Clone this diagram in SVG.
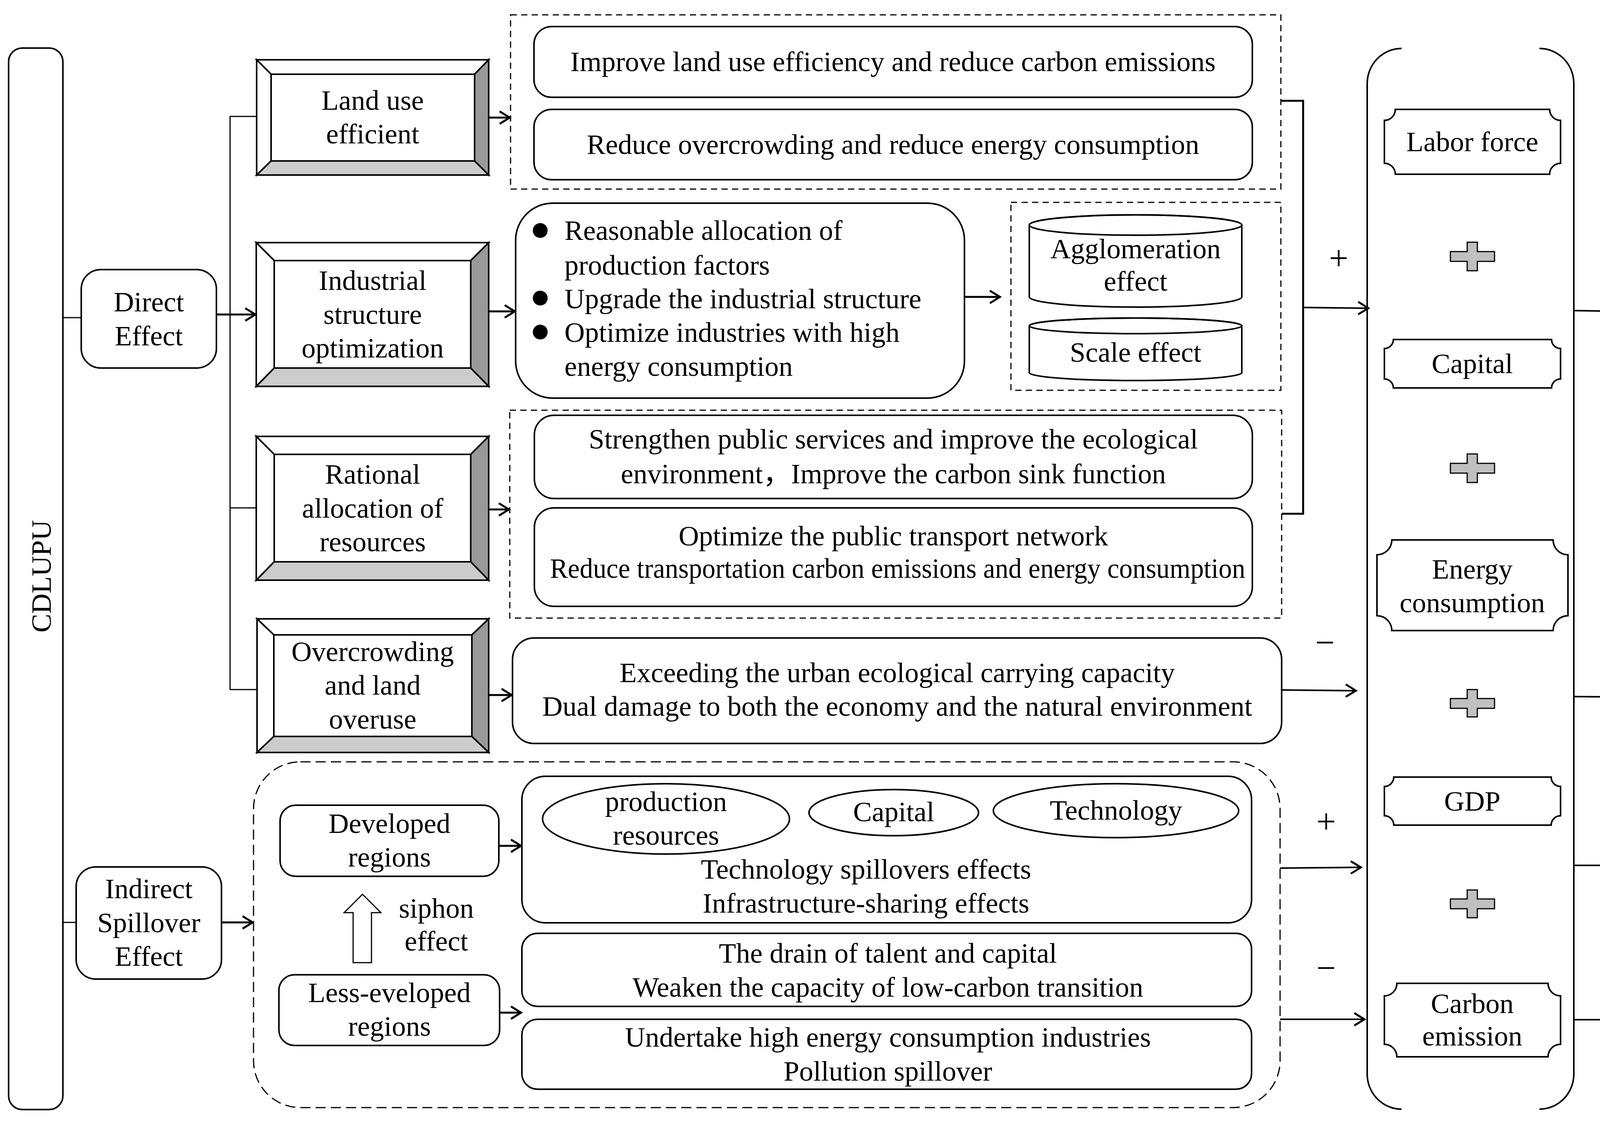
<svg xmlns="http://www.w3.org/2000/svg" width="4321" height="2877" viewBox="0 0 4321 2877">
<style>
.t{font-family:"Liberation Serif","Times New Roman","Noto Sans CJK SC",serif;font-size:72px;fill:#000;text-anchor:middle}
.ts{text-anchor:start}
.sg{font-family:"Liberation Serif","Times New Roman",serif;font-size:88px;fill:#000;text-anchor:middle}
.box{fill:#fff;stroke:#000;stroke-width:4}
.dash{fill:none;stroke:#000;stroke-width:3;stroke-dasharray:16 11}
.dashb{fill:none;stroke:#000;stroke-width:3;stroke-dasharray:26 13}
.lt{fill:none;stroke:#000;stroke-width:3}
.ar{fill:none;stroke:#000;stroke-width:5;marker-end:url(#ah)}
.arl{fill:none;stroke:#000;stroke-width:4;marker-end:url(#ah)}
.bw{fill:#fff;stroke:#000;stroke-width:4}
.bd{fill:#999;stroke:#000;stroke-width:4}
.bl{fill:#ccc;stroke:#000;stroke-width:4}
.cross{fill:#c0c0c0;stroke:#000;stroke-width:3}
</style>
<defs>
<marker id="ah" markerUnits="userSpaceOnUse" markerWidth="44" markerHeight="44" refX="34" refY="20" orient="auto">
<path d="M8,4 L34,20 L8,36" fill="none" stroke="#000" stroke-width="5"/>
</marker>
</defs>
<rect width="4321" height="2877" fill="#fff"/>

<g id="connectors">
<line class="lt" x1="161" y1="813" x2="208" y2="813"/>
<line class="lt" x1="161" y1="2361" x2="195" y2="2361"/>
<polyline class="lt" points="657,298 589,298 589,1765 658,1765"/>
<line class="lt" x1="589" y1="1300" x2="656" y2="1300"/>
<line class="ar" x1="554" y1="805" x2="654" y2="805"/>
<line class="ar" x1="1251" y1="301" x2="1305" y2="301"/>
<line class="ar" x1="1251" y1="797" x2="1318" y2="797"/>
<line class="ar" x1="2469" y1="760" x2="2560" y2="760"/>
<line class="ar" x1="1251" y1="1304" x2="1303" y2="1304"/>
<line class="ar" x1="1251" y1="1779" x2="1310" y2="1779"/>
<line class="ar" x1="567" y1="2361" x2="647" y2="2361"/>
<line class="ar" x1="1277" y1="2165" x2="1334" y2="2165"/>
<line class="ar" x1="1279" y1="2592" x2="1334" y2="2592"/>
<polyline points="3279,258 3336,258 3336,1315 3281,1315" fill="none" stroke="#000" stroke-width="5"/>
<line class="arl" x1="3336" y1="787" x2="3503" y2="789"/>
<line class="arl" x1="3281" y1="1766" x2="3471" y2="1768"/>
<line class="arl" x1="3277" y1="2222" x2="3484" y2="2220"/>
<line class="arl" x1="3277" y1="2609" x2="3493" y2="2609"/>
<line class="arl" x1="4029" y1="795" x2="4148" y2="797"/>
<line class="arl" x1="4029" y1="1783" x2="4150" y2="1784"/>
<line class="arl" x1="4029" y1="2215" x2="4145" y2="2215"/>
<line class="arl" x1="4029" y1="2610" x2="4150" y2="2610"/>
<polygon points="928,2289 975,2336 951,2336 951,2464 904,2464 904,2336 881,2336" fill="#fff" stroke="#000" stroke-width="3"/>
</g>

<g id="cdlupu">
<rect class="box" x="22" y="123" width="139" height="2717" rx="35"/>
<text class="t" transform="translate(130,1475) rotate(-90)">CDLUPU</text>
</g>

<g id="cee">
<rect class="box" x="4151" y="124" width="139" height="2715" rx="30"/>
<text class="t" transform="translate(4247,1443) rotate(-90)">CEE</text>
</g>

<g id="direct-effect">
<rect class="box" x="208" y="690" width="346" height="252" rx="50"/>
<text class="t" x="381" y="797">Direct</text>
<text class="t" x="381" y="884">Effect</text>
</g>

<g id="indirect-effect">
<rect class="box" x="195" y="2219" width="372" height="287" rx="50"/>
<text class="t" x="381" y="2299">Indirect</text>
<text class="t" x="381" y="2386">Spillover</text>
<text class="t" x="381" y="2472">Effect</text>
</g>

<g id="land-use">
<polygon class="bw" points="657,153 1251,153 1215,190 694,190"/>
<polygon class="bw" points="657,153 694,190 694,412 657,448"/>
<polygon class="bd" points="1251,153 1251,448 1215,412 1215,190"/>
<polygon class="bl" points="657,448 694,412 1215,412 1251,448"/>
<rect class="box" x="694" y="190" width="521" height="222"/>
<text class="t" x="954" y="281">Land use</text>
<text class="t" x="954" y="367">efficient</text>
</g>

<g id="industrial">
<polygon class="bw" points="656,621 1251,621 1205,667 702,667"/>
<polygon class="bw" points="656,621 702,667 702,942 656,989"/>
<polygon class="bd" points="1251,621 1251,989 1205,942 1205,667"/>
<polygon class="bl" points="656,989 702,942 1205,942 1251,989"/>
<rect class="box" x="702" y="667" width="503" height="275"/>
<text class="t" x="954" y="742">Industrial</text>
<text class="t" x="954" y="829">structure</text>
<text class="t" x="954" y="915">optimization</text>
</g>

<g id="rational">
<polygon class="bw" points="656,1117 1251,1117 1205,1163 702,1163"/>
<polygon class="bw" points="656,1117 702,1163 702,1438 656,1485"/>
<polygon class="bd" points="1251,1117 1251,1485 1205,1438 1205,1163"/>
<polygon class="bl" points="656,1485 702,1438 1205,1438 1251,1485"/>
<rect class="box" x="702" y="1163" width="503" height="275"/>
<text class="t" x="954" y="1238">Rational</text>
<text class="t" x="954" y="1325">allocation of</text>
<text class="t" x="954" y="1411">resources</text>
</g>

<g id="overcrowding">
<polygon class="bw" points="658,1584 1251,1584 1208,1625 701,1625"/>
<polygon class="bw" points="658,1584 701,1625 701,1885 658,1926"/>
<polygon class="bd" points="1251,1584 1251,1926 1208,1885 1208,1625"/>
<polygon class="bl" points="658,1926 701,1885 1208,1885 1251,1926"/>
<rect class="box" x="701" y="1625" width="507" height="260"/>
<text class="t" x="954" y="1692">Overcrowding</text>
<text class="t" x="954" y="1778">and land</text>
<text class="t" x="954" y="1865">overuse</text>
</g>

<g id="land-effects">
<rect class="dash" x="1307" y="38" width="1972" height="446"/>
<rect class="box" x="1367" y="68" width="1839" height="181" rx="45"/>
<text class="t" x="2286" y="182">Improve land use efficiency and reduce carbon emissions</text>
<rect class="box" x="1367" y="280" width="1839" height="180" rx="45"/>
<text class="t" x="2286" y="394">Reduce overcrowding and reduce energy consumption</text>
</g>

<g id="industrial-effects">
<rect class="box" x="1320" y="520" width="1149" height="499" rx="95"/>
<circle cx="1383" cy="590" r="19"/>
<circle cx="1383" cy="763" r="19"/>
<circle cx="1383" cy="850" r="19"/>
<text class="t ts" x="1445" y="614">Reasonable allocation of</text>
<text class="t ts" x="1445" y="703">production factors</text>
<text class="t ts" x="1445" y="789">Upgrade the industrial structure</text>
<text class="t ts" x="1445" y="875">Optimize industries with high</text>
<text class="t ts" x="1445" y="962">energy consumption</text>
</g>

<g id="cylinders">
<rect class="dash" x="2588" y="518" width="691" height="481"/>
<path class="box" d="M2635,576 A272,26 0 0 1 3179,576 L3179,760 A272,26 0 0 1 2635,760 Z"/>
<ellipse cx="2907" cy="576" rx="272" ry="26" fill="none" stroke="#000" stroke-width="4"/>
<text class="t" x="2907" y="661">Agglomeration</text>
<text class="t" x="2907" y="744">effect</text>
<path class="box" d="M2635,834 A272,20 0 0 1 3179,834 L3179,954 A272,20 0 0 1 2635,954 Z"/>
<ellipse cx="2907" cy="834" rx="272" ry="20" fill="none" stroke="#000" stroke-width="4"/>
<text class="t" x="2907" y="926">Scale effect</text>
</g>

<g id="resource-effects">
<rect class="dash" x="1305" y="1050" width="1976" height="532"/>
<rect class="box" x="1368" y="1063" width="1838" height="213" rx="50"/>
<text class="t" x="2287" y="1148">Strengthen public services and improve the ecological</text>
<text class="t" x="2287" y="1237">environment，Improve the carbon sink function</text>
<rect class="box" x="1368" y="1300" width="1838" height="252" rx="50"/>
<text class="t" x="2287" y="1396">Optimize the public transport network</text>
<text class="t" x="2298" y="1479" textLength="1780" lengthAdjust="spacingAndGlyphs">Reduce transportation carbon emissions and energy consumption</text>
</g>

<g id="exceeding">
<rect class="box" x="1312" y="1633" width="1969" height="270" rx="55"/>
<text class="t" x="2297" y="1746">Exceeding the urban ecological carrying capacity</text>
<text class="t" x="2297" y="1832">Dual damage to both the economy and the natural environment</text>
</g>

<g id="spillover">
<rect class="dashb" x="649" y="1950" width="2628" height="885" rx="120"/>
<rect class="box" x="717" y="2061" width="560" height="182" rx="40"/>
<text class="t" x="997" y="2132">Developed</text>
<text class="t" x="997" y="2218">regions</text>
<rect class="box" x="714" y="2495" width="565" height="181" rx="40"/>
<text class="t" x="997" y="2565">Less-eveloped</text>
<text class="t" x="997" y="2651">regions</text>
<text class="t" x="1117" y="2349">siphon</text>
<text class="t" x="1117" y="2433">effect</text>
<rect class="box" x="1336" y="1987" width="1868" height="375" rx="60"/>
<ellipse class="box" cx="1705" cy="2096" rx="316" ry="90"/>
<text class="t" x="1705" y="2076">production</text>
<text class="t" x="1705" y="2162">resources</text>
<ellipse class="box" cx="2288" cy="2080" rx="217" ry="59"/>
<text class="t" x="2288" y="2102">Capital</text>
<ellipse class="box" cx="2857" cy="2075" rx="314" ry="69"/>
<text class="t" x="2857" y="2098">Technology</text>
<text class="t" x="2217" y="2249">Technology spillovers effects</text>
<text class="t" x="2217" y="2336">Infrastructure-sharing effects</text>
<rect class="box" x="1336" y="2389" width="1868" height="187" rx="40"/>
<text class="t" x="2273" y="2464">The drain of talent and capital</text>
<text class="t" x="2273" y="2551">Weaken the capacity of low-carbon transition</text>
<rect class="box" x="1336" y="2609" width="1868" height="179" rx="40"/>
<text class="t" x="2273" y="2679">Undertake high energy consumption industries</text>
<text class="t" x="2273" y="2766">Pollution spillover</text>
</g>

<g id="signs">
<text class="sg" x="3427" y="690">+</text>
<text class="sg" x="3392" y="1674">−</text>
<text class="sg" x="3395" y="2132">+</text>
<text class="sg" x="3395" y="2507">−</text>
</g>

<g id="factors">
<path d="M3588,124 A88,90 0 0 0 3500,214 L3500,2749 A88,90 0 0 0 3588,2839" fill="none" stroke="#000" stroke-width="4"/>
<path d="M3941,124 A88,90 0 0 1 4029,214 L4029,2749 A88,90 0 0 1 3941,2839" fill="none" stroke="#000" stroke-width="4"/>
<path class="box" d="M3572,280 L3967,280 A28,28 0 0 0 3995,308 L3995,418 A28,28 0 0 0 3967,446 L3572,446 A28,28 0 0 0 3544,418 L3544,308 A28,28 0 0 0 3572,280 Z"/>
<text class="t" x="3769" y="387">Labor force</text>
<path class="cross" d="M3756,620 L3782,620 L3782,644 L3826,644 L3826,669 L3782,669 L3782,693 L3756,693 L3756,669 L3713,669 L3713,644 L3756,644 Z"/>
<path class="box" d="M3567,869 L3972,869 A23,23 0 0 0 3995,892 L3995,970 A23,23 0 0 0 3972,993 L3567,993 A23,23 0 0 0 3544,970 L3544,892 A23,23 0 0 0 3567,869 Z"/>
<text class="t" x="3769" y="955">Capital</text>
<path class="cross" d="M3756,1162 L3782,1162 L3782,1186 L3826,1186 L3826,1211 L3782,1211 L3782,1235 L3756,1235 L3756,1211 L3713,1211 L3713,1186 L3756,1186 Z"/>
<path class="box" d="M3563,1382 L3976,1382 A38,38 0 0 0 4014,1420 L4014,1576 A38,38 0 0 0 3976,1614 L3563,1614 A38,38 0 0 0 3525,1576 L3525,1420 A38,38 0 0 0 3563,1382 Z"/>
<text class="t" x="3769" y="1481">Energy</text>
<text class="t" x="3769" y="1567">consumption</text>
<path class="cross" d="M3756,1765 L3782,1765 L3782,1788 L3826,1788 L3826,1813 L3782,1813 L3782,1835 L3756,1835 L3756,1813 L3713,1813 L3713,1788 L3756,1788 Z"/>
<path class="box" d="M3568,1989 L3971,1989 A24,24 0 0 0 3995,2013 L3995,2088 A24,24 0 0 0 3971,2112 L3568,2112 A24,24 0 0 0 3544,2088 L3544,2013 A24,24 0 0 0 3568,1989 Z"/>
<text class="t" x="3769" y="2075">GDP</text>
<path class="cross" d="M3756,2278 L3782,2278 L3782,2301 L3826,2301 L3826,2326 L3782,2326 L3782,2349 L3756,2349 L3756,2326 L3713,2326 L3713,2301 L3756,2301 Z"/>
<path class="box" d="M3576,2517 L3963,2517 A32,32 0 0 0 3995,2549 L3995,2673 A32,32 0 0 0 3963,2705 L3576,2705 A32,32 0 0 0 3544,2673 L3544,2549 A32,32 0 0 0 3576,2517 Z"/>
<text class="t" x="3769" y="2593">Carbon</text>
<text class="t" x="3769" y="2676">emission</text>
</g>
</svg>
